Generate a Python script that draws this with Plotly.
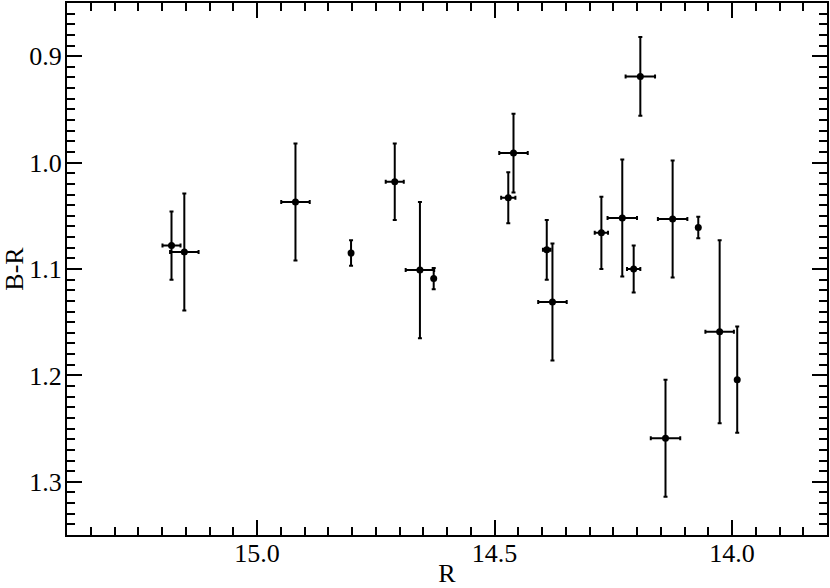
import plotly.graph_objects as go

# R magnitude, B-R colour and their errors
r = [15.180, 15.153, 14.919, 14.802, 14.710, 14.657, 14.628, 14.471, 14.460, 14.390,
     14.378, 14.275, 14.231, 14.207, 14.193, 14.125, 14.071, 14.140, 14.026, 13.989]
br = [1.078, 1.084, 1.037, 1.085, 1.018, 1.101, 1.109, 1.033, 0.991, 1.082,
      1.131, 1.066, 1.052, 1.100, 0.919, 1.053, 1.061, 1.259, 1.159, 1.204]
r_err = [0.019, 0.030, 0.030, 0.0, 0.019, 0.030, 0.0, 0.015, 0.030, 0.008,
         0.030, 0.014, 0.031, 0.014, 0.031, 0.031, 0.0, 0.031, 0.030, 0.0]
br_err = [0.032, 0.055, 0.055, 0.012, 0.036, 0.064, 0.010, 0.024, 0.037, 0.028,
          0.055, 0.034, 0.055, 0.022, 0.037, 0.055, 0.010, 0.055, 0.086, 0.050]

font = "Liberation Serif"

fig = go.Figure(go.Scatter(
    x=r, y=br, mode="markers",
    marker=dict(color="black", size=7),
    error_x=dict(type="data", array=r_err, color="black", thickness=2, width=2),
    error_y=dict(type="data", array=br_err, color="black", thickness=2, width=2),
))

axis_common = dict(
    showgrid=False, zeroline=False, showline=True, linecolor="black", linewidth=2,
    mirror="ticks", ticks="inside", ticklen=15, tickwidth=2, tickcolor="black",
    tickformat=".1f", tickfont=dict(family=font, size=26, color="black"),
    automargin=False,
)

fig.update_xaxes(range=[15.4, 13.8], dtick=0.5, tick0=14.0, ticklabelstandoff=-6,
                 minor=dict(dtick=0.05, ticks="inside", ticklen=8, tickwidth=2, tickcolor="black"),
                 title=dict(text="R", font=dict(family=font, size=26, color="black"), standoff=0),
                 **axis_common)
fig.update_yaxes(range=[1.35, 0.85], dtick=0.1, tick0=0.9, ticklabelstandoff=-2,
                 minor=dict(dtick=0.01, ticks="inside", ticklen=8, tickwidth=2, tickcolor="black"),
                 title=dict(text="B-R", font=dict(family=font, size=26, color="black"), standoff=4),
                 **axis_common)

fig.update_layout(
    width=830, height=588,
    margin=dict(l=67, r=3, t=3, b=53, autoexpand=False),
    plot_bgcolor="white", paper_bgcolor="white",
    showlegend=False,
    font=dict(family=font, color="black"),
)

# drop the default page margin so the figure sits at the window's corner
fig.write_html("out.html", config={"displayModeBar": False},
               post_script="document.body.style.margin='0';")
